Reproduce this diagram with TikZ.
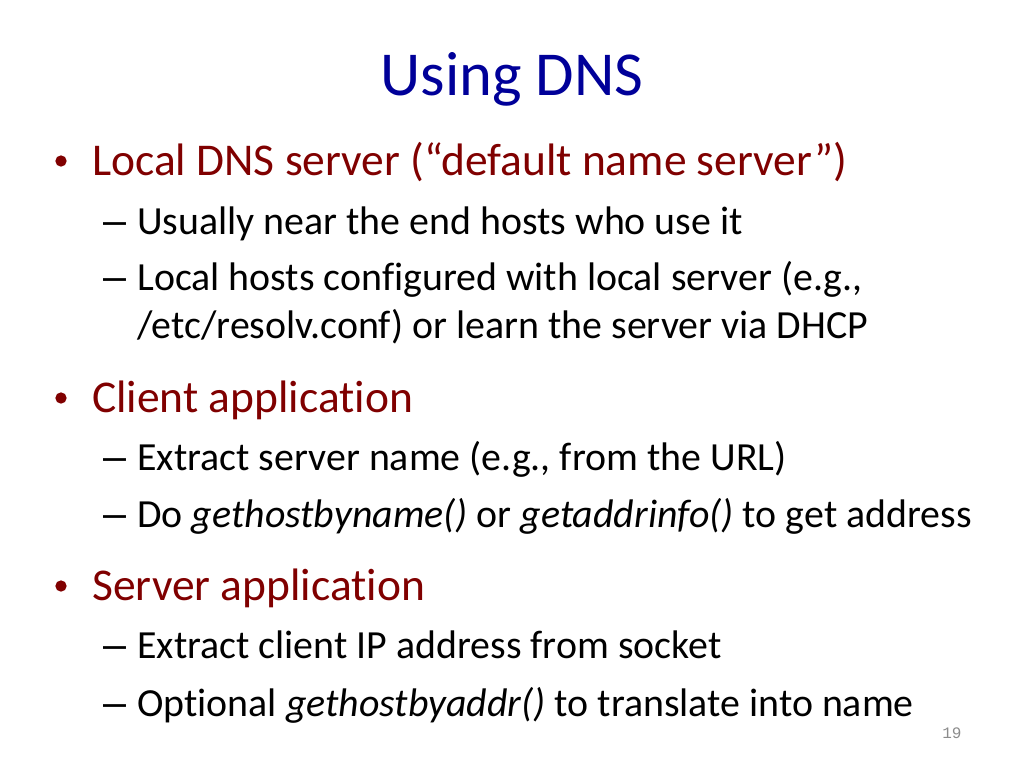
\documentclass[tikz,border=0pt]{standalone}
\usepackage{fontspec}
\setmainfont{Carlito}[Ligatures=NoCommon]
\newfontfamily\dashfont{Liberation Sans}
\newfontfamily\pagefont{Liberation Mono}
\definecolor{titleblue}{RGB}{0,0,153}
\definecolor{itemred}{RGB}{128,0,0}
\definecolor{pagegray}{RGB}{140,140,140}

\begin{document}
\begin{tikzpicture}[x=0.75pt, y=-0.75pt,
	every node/.style={inner sep=0pt, anchor=base west},
	lvlone/.style={font=\fontsize{34.1}{41}\selectfont, text=itemred},
	lvltwo/.style={font=\fontsize{29.9}{36}\selectfont},
	mark1/.style={circle, fill=itemred, minimum size=8.5pt, anchor=center},
	mark2/.style={font=\dashfont\fontsize{31}{36}\selectfont}]
	\useasboundingbox[fill=white] (0,0) rectangle (1024,768);

	\node[anchor=base, font=\fontsize{46.9}{56}\selectfont, text=titleblue] (title) at (512,95) {Using DNS};

	% local server
	\node[mark1] (b1) at (61,161) {};
	\node[lvlone] (local) at (92,175) {Local DNS server (“default name server”)};
	\node[mark2] (d1) at (103,234) {–};
	\node[lvltwo] (near) at (137,234) {Usually near the end hosts who use it};
	\node[mark2] (d2) at (103,290) {–};
	\node[lvltwo] (conf) at (137,290) {Local hosts configured with local server (e.g.,};
	\node[lvltwo] (resolv) at (137,338) {/etc/resolv.conf) or learn the server via DHCP};

	% client
	\node[mark1] (b2) at (61,398) {};
	\node[lvlone] (client) at (92,412) {Client application};
	\node[mark2] (d3) at (103,470) {–};
	\node[lvltwo] (extract) at (137,470) {Extract server name (e.g., from the URL)};
	\node[mark2] (d4) at (103,527) {–};
	\node[lvltwo] (lookup) at (137,527) {Do \textit{gethostbyname()} or \textit{getaddrinfo()} to get address};

	% server
	\node[mark1] (b3) at (61,586) {};
	\node[lvlone] (server) at (92,600) {Server application};
	\node[mark2] (d5) at (103,658) {–};
	\node[lvltwo] (clientip) at (137,658) {Extract client IP address from socket};
	\node[mark2] (d6) at (103,716) {–};
	\node[lvltwo] (reverse) at (137,716) {Optional \textit{gethostbyaddr()} to translate into name};

	\node[font=\pagefont\fontsize{12}{14}\selectfont, text=pagegray] (page) at (942,738) {19};
\end{tikzpicture}
\end{document}
